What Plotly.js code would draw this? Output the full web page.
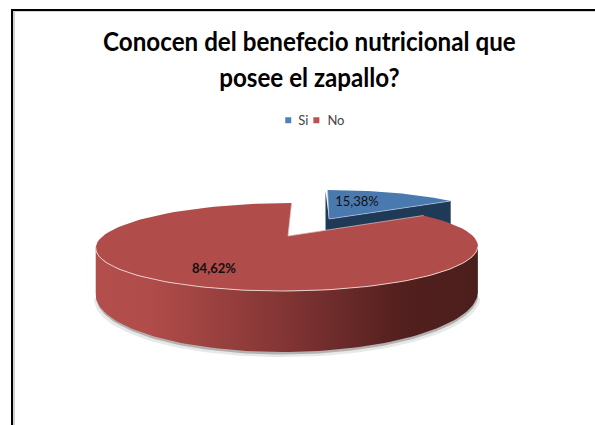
<!DOCTYPE html>
<html>
<head>
<meta charset="utf-8">
<script src="https://cdn.plot.ly/plotly-3.0.1.min.js"></script>
<style>html,body{margin:0;padding:0;background:#fff}#c{width:595px;height:425px}</style>
</head>
<body>
<div id="c"></div>
<script>
// Data
const categories = ['Si', 'No'];
const percentages = [15.38, 84.62];
const legendColors = ['#4F81BD', '#C0504D'];
const chartTitle = 'Conocen del benefecio nutricional que<br>posee el zapallo?';

// Projection of the 3D pie (clock angle, degrees) onto the page's axes
const K = 0.25, AX = 185, CX = 288, TOPY = 236, TOPB = 41.25, BOTY = 278.2, BOTB = 55.3;
const rad = d => d * Math.PI / 180;
function rim(deg, cy, b, tilt) {
  const u = Math.sin(rad(deg)), v = Math.cos(rad(deg)), w = 1 + K * v;
  return [AX * u / w + tilt * v / w, cy - b * v / w];
}
function arc(from, to, cy, b, tilt) {
  const pts = [], n = 90;
  for (let i = 0; i <= n; i++) pts.push(rim(from + (to - from) * i / n, cy, b, tilt));
  return pts.map(p => [p[0] + CX, p[1]]);
}
function poly(pts, opts) {
  return Object.assign({
    x: pts.map(p => p[0]), y: pts.map(p => p[1]), mode: 'lines', fill: 'toself',
    line: {width: 0}, hoverinfo: 'skip', showlegend: false
  }, opts);
}
function edge(pts, color, width) {
  return {x: pts.map(p => p[0]), y: pts.map(p => p[1]), mode: 'lines',
    line: {color: color, width: width}, hoverinfo: 'skip', showlegend: false};
}
const siDeg = percentages[0] / 100 * 360;
const tanL = Math.acos(-K) * 180 / Math.PI, tanR = 360 - tanL;

// Red slice
const redCentre = [CX, TOPY];
const redTop = arc(siDeg, 360, TOPY, TOPB, 4.5).concat([redCentre]);
const redFront = arc(tanL, tanR, TOPY, TOPB, 4.5);
const redBottom = arc(tanL, tanR, BOTY, BOTB, 4.5);
const redWall = redFront.concat(redBottom.slice().reverse());

// Blue slice: pulled away from the centre and further from the viewer
const apex = [329, 219], SX = 0.92, SY = 0.88;
const pull = p => [apex[0] + SX * (p[0] - CX), apex[1] + SY * (p[1] - TOPY)];
const blueArc = arc(0, siDeg, TOPY, TOPB, -2).map(pull);
const blueTop = [apex].concat(blueArc);
const DROP = 30;
const down = p => [p[0], p[1] + DROP];
const blueEnd = blueArc[blueArc.length - 1], blueStart = blueArc[0];
const blueWallR = [apex, blueEnd, down(blueEnd), down(apex)];
const blueWallL = [[blueStart[0] - 2, blueStart[1] + 1], apex, down(apex), [blueStart[0] - 2, apex[1] + DROP]];

// Soft shadow under the wall
const shadowA = redBottom.map(p => [p[0] + 0.5, p[1] + 2.5]);
const shadowB = redBottom.map(p => [p[0] + (p[0] > CX ? 2.5 : -1.5), p[1] + 5]);

const fmt = v => v.toFixed(2).replace('.', ',') + '%';

const traces = [
  poly(shadowB, {fillcolor: 'rgba(190,190,190,0.35)'}),
  poly(shadowA, {fillcolor: 'rgba(160,160,160,0.75)'}),
  poly(blueWallL, {fillcolor: '#1F3A57'}),
  poly(blueWallR, {fillcolor: '#1F3A57'}),
  poly(blueTop, {fillcolor: '#4A79B0'}),
  edge([blueStart, apex, blueEnd], 'rgba(190,205,225,0.8)', 0.8),
  poly(redWall, {
    fillcolor: '#7d3331',
    fillgradient: {type: 'horizontal', colorscale: [
      [0, 'rgb(178,78,75)'], [0.14, 'rgb(176,76,73)'], [0.27, 'rgb(160,68,66)'],
      [0.53, 'rgb(125,50,50)'], [0.8, 'rgb(82,32,30)'], [1, 'rgb(75,30,28)']]}
  }),
  poly(redTop, {fillcolor: '#B04C49'}),
  edge(redFront, 'rgba(238,215,212,0.9)', 1),
  edge([redTop[redTop.length - 2], redCentre, redTop[0]], 'rgba(225,190,188,0.9)', 0.8),
  {x: [357, 214], y: [202.5, 270], mode: 'text', text: percentages.map((v, i) => i === 1 ? '<b>' + fmt(v) + '</b>' : fmt(v)),
    textfont: {family: 'Lato, sans-serif', size: 13, color: '#111'}, textposition: 'middle center',
    hoverinfo: 'skip', showlegend: false}
];
categories.forEach((c, i) => traces.push({
  x: [null], y: [null], mode: 'markers', name: c, type: 'scatter',
  marker: {symbol: 'square', size: 6, color: legendColors[i]}, hoverinfo: 'skip'
}));

const frame = (x0, y0, x1, y1, color, w) => ({type: 'line', xref: 'x', yref: 'y', x0, y0, x1, y1, line: {color, width: w}, layer: 'above'});

const layout = {
  width: 595, height: 425, margin: {l: 0, r: 0, t: 0, b: 0},
  paper_bgcolor: '#fff', plot_bgcolor: '#fff',
  xaxis: {range: [0, 595], visible: false, fixedrange: true},
  yaxis: {range: [425, 0], visible: false, fixedrange: true},
  title: {text: chartTitle, x: 0.52, xanchor: 'center', y: 0.879, yanchor: 'top',
    font: {family: 'Lato, sans-serif', size: 27, color: '#000', weight: 700}},
  legend: {orientation: 'h', x: 0.55, xanchor: 'center', y: 0.717, yref: 'paper', yanchor: 'middle',
    font: {family: 'Lato, sans-serif', size: 13, color: '#444'}, bgcolor: 'rgba(0,0,0,0)',
    itemwidth: 30, indentation: -10},
  shapes: [
    frame(14, 11.5, 595, 11.5, '#d4d4d4', 1),
    frame(14, 11, 14, 425, '#d0d0d0', 2),
    frame(12, 10, 595, 10, '#000', 2),
    frame(12, 9, 12, 425, '#000', 2)
  ]
};
Plotly.newPlot('c', traces, layout, {displayModeBar: false, staticPlot: true}).then(gd => {
  // Title face is wider than the reference's: condense it horizontally about its centre
  const cx = 0.52 * 595;
  const t = gd.querySelector('.g-gtitle');
  if (t) t.setAttribute('transform', `translate(${cx},0) scale(0.896,1) translate(${-cx},0)`);
  // Tighten the legend entries, which Plotly spaces for a wider swatch
  const items = gd.querySelectorAll('.legend .traces');
  const pad = [[10, 0], [9, 17]];
  items.forEach((it, i) => {
    const tx = it.querySelector('.legendtext');
    if (tx) tx.setAttribute('x', parseFloat(tx.getAttribute('x')) - pad[i][0]);
    const m = /translate\(([-\d.]+)[ ,]*([-\d.]*)\)/.exec(it.getAttribute('transform') || '');
    if (m) it.setAttribute('transform', `translate(${parseFloat(m[1]) - pad[i][1]},${m[2] || 0})`);
  });
});
</script>
</body>
</html>
